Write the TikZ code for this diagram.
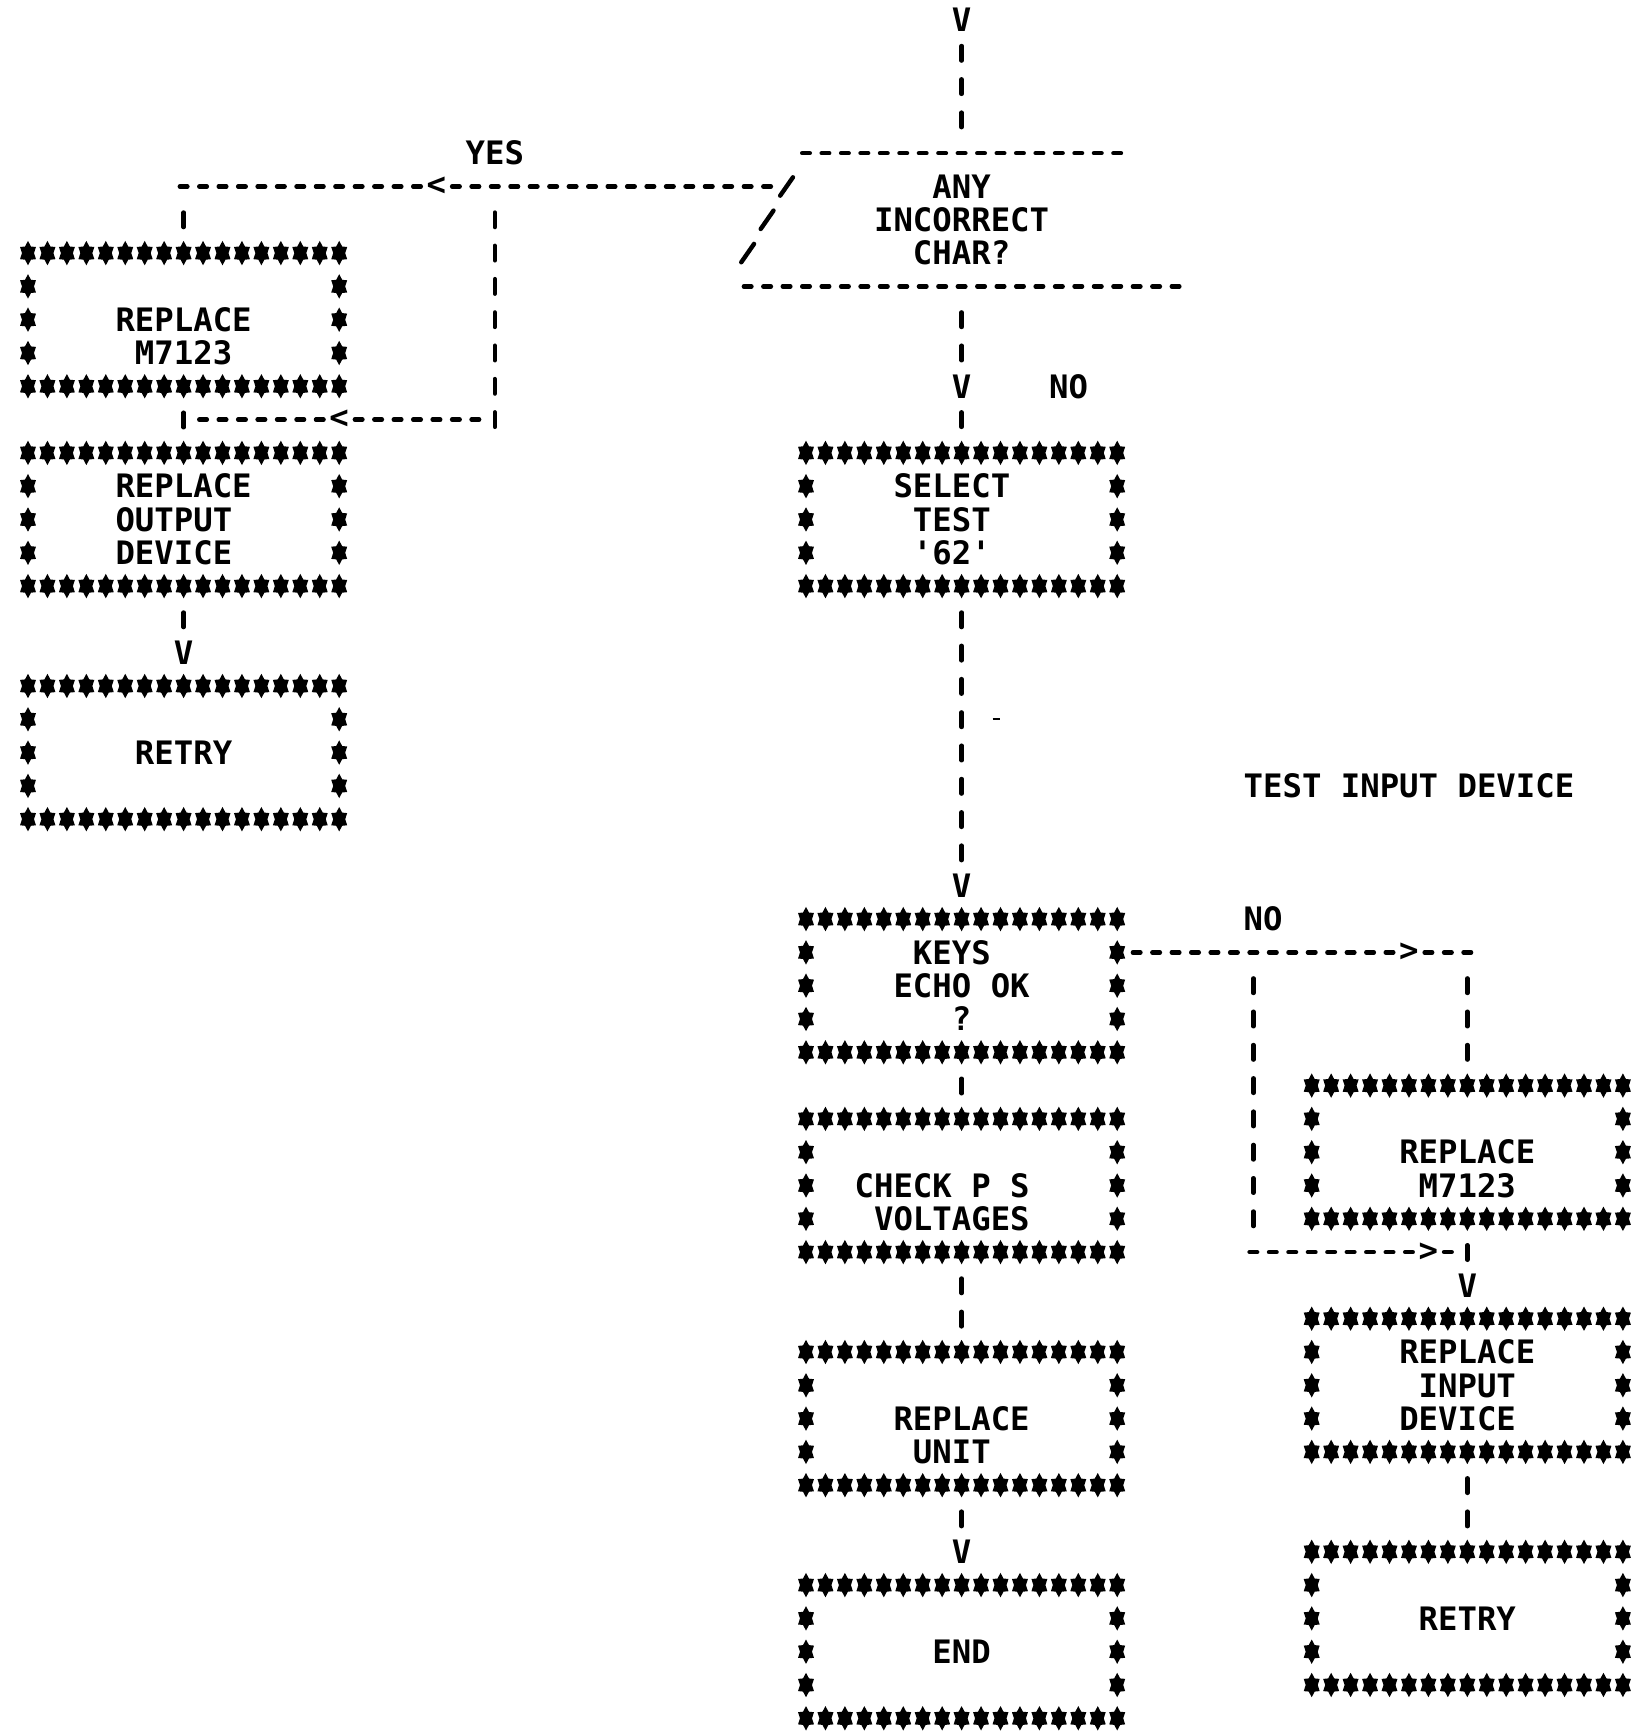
\documentclass[tikz,border=0pt]{standalone}
\usepackage{fontspec}
\newfontfamily\plotfont{DejaVu Sans Mono}[Ligatures=TeXOff]
\usetikzlibrary{calc}
\tikzset{
  astar/.pic={\fill (90:4.6pt and 6.1pt) -- (60:3.0pt and 3.8pt) -- (30:4.6pt and 6.1pt) -- (0:3.0pt and 3.8pt) -- (-30:4.6pt and 6.1pt) -- (-60:3.0pt and 3.8pt) -- (-90:4.6pt and 6.1pt) -- (-120:3.0pt and 3.8pt) -- (-150:4.6pt and 6.1pt) -- (180:3.0pt and 3.8pt) -- (150:4.6pt and 6.1pt) -- (120:3.0pt and 3.8pt) -- cycle;},
  slashpic/.pic={\draw[line width=2.2pt,line cap=round] (-3.2pt,-4.6pt) -- (3.2pt,4.6pt);}
}
\newcommand{\starframe}[2]{%
  \foreach \i in {0,...,16}{\pic at ({#1+\i},#2) {astar}; \pic at ({#1+\i},{#2+4}) {astar};}%
  \foreach \j in {1,2,3}{\pic at (#1,{#2+\j}) {astar}; \pic at ({#1+16},{#2+\j}) {astar};}%
}
\begin{document}
\begin{tikzpicture}[x=9.725pt,y=-16.65pt,
  txt/.style={font=\plotfont\bfseries\fontsize{16.15pt}{16.65pt}\selectfont,inner sep=0pt,anchor=center},
  frame/.style={minimum width=165.325pt,minimum height=83.25pt,inner sep=0pt},
  hconn/.style={line width=2.2pt,line cap=round,dash pattern=on 3.8pt off 5.925pt,dash phase=6.7625pt},
  vconn/.style={line width=2.2pt,line cap=round,dash pattern=on 7.3pt off 9.35pt,dash phase=11.975pt},
  arrowch/.style={txt,fill=white,inner sep=1pt}]
\useasboundingbox (-1.4396,-0.6006) rectangle (83.188,51.532);

% ---------- frames (star borders) ----------
\node[frame] (boxA) at (8,9) {};      \starframe{0}{7}
\node[frame] (boxB) at (8,15) {};     \starframe{0}{13}
\node[frame] (boxC) at (8,22) {};     \starframe{0}{20}
\node[frame] (boxSel) at (48,15) {};  \starframe{40}{13}
\node[frame] (boxKeys) at (48,29) {}; \starframe{40}{27}
\node[frame] (boxCheck) at (48,35) {};\starframe{40}{33}
\node[frame] (boxUnit) at (48,42) {}; \starframe{40}{40}
\node[frame] (boxEnd) at (48,49) {};  \starframe{40}{47}
\node[frame] (boxD) at (74,34) {};    \starframe{66}{32}
\node[frame] (boxE) at (74,41) {};    \starframe{66}{39}
\node[frame] (boxF) at (74,48) {};    \starframe{66}{46}

% ---------- decision outline ----------
\draw[hconn] (39.5,4) -- (56.5,4);
\draw[hconn] (36.5,8) -- (59.5,8);
\pic at (39,5) {slashpic};
\pic at (38,6) {slashpic};
\pic at (37,7) {slashpic};

% ---------- texts ----------
\node[txt,align=center] (dec) at (48,6) {ANY\\INCORRECT\\CHAR?};
\node[txt,align=center] (tA) at (8,9.5) {REPLACE\\M7123};
\node[txt,align=left] (tB) at (8,15) {REPLACE\\OUTPUT\\DEVICE};
\node[txt] (tC) at (8,22) {RETRY};
\node[txt,align=center] (tSel) at (47.5,15) {SELECT\\TEST\\'62'};
\node[txt,align=left] (tKeys) at (48,29) {\hphantom{K}KEYS\\ECHO OK\\\hphantom{ECH}?};
\node[txt,align=right] (tCheck) at (47,35.5) {CHECK P S\\VOLTAGES};
\node[txt,align=left] (tUnit) at (48,42.5) {REPLACE\\\hphantom{R}UNIT};
\node[txt] (tEnd) at (48,49) {END};
\node[txt,align=center] (tD) at (74,34.5) {REPLACE\\M7123};
\node[txt,align=left] (tE) at (74,41) {REPLACE\\\hphantom{R}INPUT\\DEVICE};
\node[txt] (tF) at (74,48) {RETRY};

\node[txt] (yes) at (24,4) {YES};
\node[txt] (no1) at (53.5,11) {NO};
\node[txt] (no2) at (63.5,27) {NO};
\node[txt] (title) at (71,23) {TEST INPUT DEVICE};

% ---------- connector end points ----------
\coordinate (t0) at (48,0.5);
\coordinate (decN) at (48,3.5);
\coordinate (decS) at (48,8.5);
\coordinate (decW) at (38.5,5);
\coordinate (yesL) at (7.5,5);
\coordinate (yesD) at (8,5.5);
\coordinate (byT) at (24,5.5);
\coordinate (byB) at (24,12.5);
\coordinate (byR) at (23.5,12);
\coordinate (byL) at (8.5,12);
\coordinate (keysE) at (56.5,28);
\coordinate (noR) at (74.5,28);
\coordinate (noD) at (74,28.5);
\coordinate (skT) at (63,28.5);
\coordinate (skB) at (63,36.5);
\coordinate (skL) at (62.5,37);
\coordinate (skR) at (73.5,37);

% ---------- connectors ----------
\draw[vconn] (t0) -- (decN);
\draw[vconn] (decS) -- (boxSel.north);
\draw[hconn] (decW) -- (yesL);
\draw[vconn] (yesD) -- (boxA.north);
\draw[vconn] (byT) -- (byB);
\draw[hconn] (byR) -- (byL);
\draw[vconn] (boxA.south) -- (boxB.north);
\draw[vconn] (boxB.south) -- (boxC.north);
\draw[vconn] (boxSel.south) -- (boxKeys.north);
\draw[vconn] (boxKeys.south) -- (boxCheck.north);
\draw[vconn] (boxCheck.south) -- (boxUnit.north);
\draw[vconn] (boxUnit.south) -- (boxEnd.north);
\draw[hconn] (keysE) -- (noR);
\draw[vconn] (noD) -- (boxD.north);
\draw[vconn] (skT) -- (skB);
\draw[hconn] (skL) -- (skR);
\draw[vconn] (boxD.south) -- (boxE.north);
\draw[vconn] (boxE.south) -- (boxF.north);

% stray mark
\draw[line width=1.2pt] (49.6,21) -- (49.95,21);

% ---------- arrow characters ----------
\node[arrowch] (v0) at (48,0) {V};
\node[arrowch] (v1) at (48,11) {V};
\node[arrowch] (v2) at (8,19) {V};
\node[arrowch] (v3) at (48,26) {V};
\node[arrowch] (v4) at (74,38) {V};
\node[arrowch] (v5) at (48,46) {V};
\node[arrowch] (l1) at (21,5) {<};
\node[arrowch] (l2) at (16,12) {<};
\node[arrowch] (r1) at (71,28) {>};
\node[arrowch] (r2) at (72,37) {>};
\end{tikzpicture}
\end{document}
